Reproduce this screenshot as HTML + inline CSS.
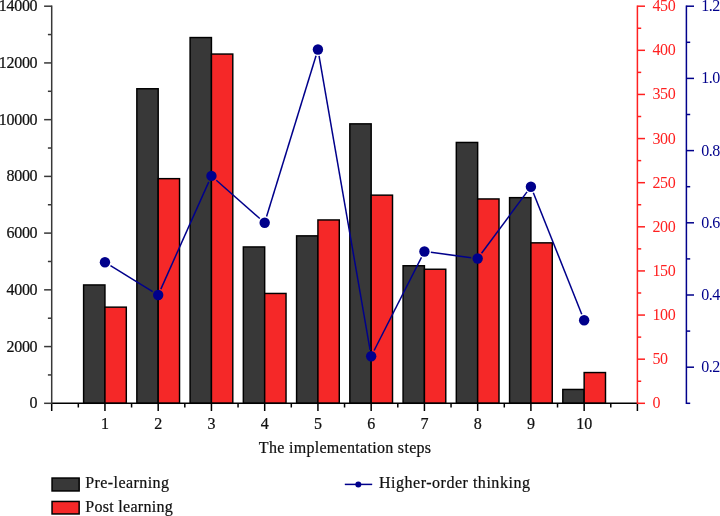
<!DOCTYPE html>
<html><head><meta charset="utf-8"><title>Chart</title>
<style>html,body{margin:0;padding:0;background:#fff;}body{width:720px;height:516px;overflow:hidden;font-family:"Liberation Serif",serif;}svg{display:block}</style>
</head><body>
<svg width="720" height="516" viewBox="0 0 720 516" font-family="'Liberation Serif', serif" font-size="16">
<rect width="720" height="516" fill="#fff"/>
<g stroke="#000" stroke-width="1.45">
<rect x="83.60" y="284.95" width="21.35" height="118.35" fill="#383838"/>
<rect x="104.95" y="307.15" width="21.35" height="96.15" fill="#f52828"/>
<rect x="136.84" y="88.75" width="21.35" height="314.55" fill="#383838"/>
<rect x="158.19" y="178.65" width="21.35" height="224.65" fill="#f52828"/>
<rect x="190.09" y="37.55" width="21.35" height="365.75" fill="#383838"/>
<rect x="211.44" y="54.05" width="21.35" height="349.25" fill="#f52828"/>
<rect x="243.33" y="246.95" width="21.35" height="156.35" fill="#383838"/>
<rect x="264.68" y="293.45" width="21.35" height="109.85" fill="#f52828"/>
<rect x="296.58" y="235.85" width="21.35" height="167.45" fill="#383838"/>
<rect x="317.93" y="219.95" width="21.35" height="183.35" fill="#f52828"/>
<rect x="349.82" y="123.85" width="21.35" height="279.45" fill="#383838"/>
<rect x="371.17" y="195.15" width="21.35" height="208.15" fill="#f52828"/>
<rect x="403.07" y="265.75" width="21.35" height="137.55" fill="#383838"/>
<rect x="424.42" y="269.25" width="21.35" height="134.05" fill="#f52828"/>
<rect x="456.31" y="142.45" width="21.35" height="260.85" fill="#383838"/>
<rect x="477.66" y="198.95" width="21.35" height="204.35" fill="#f52828"/>
<rect x="509.56" y="197.65" width="21.35" height="205.65" fill="#383838"/>
<rect x="530.91" y="242.85" width="21.35" height="160.45" fill="#f52828"/>
<rect x="562.80" y="389.45" width="21.35" height="13.85" fill="#383838"/>
<rect x="584.15" y="372.55" width="21.35" height="30.75" fill="#f52828"/>
</g>
<g stroke="#000" stroke-width="1.5" fill="none">
<path d="M50.95 403.3H638.15"/>
<path d="M51.70 403.3V411.0"/>
<path d="M78.32 403.3V407.5"/>
<path d="M104.95 403.3V411.0"/>
<path d="M131.57 403.3V407.5"/>
<path d="M158.19 403.3V411.0"/>
<path d="M184.81 403.3V407.5"/>
<path d="M211.44 403.3V411.0"/>
<path d="M238.06 403.3V407.5"/>
<path d="M264.68 403.3V411.0"/>
<path d="M291.30 403.3V407.5"/>
<path d="M317.93 403.3V411.0"/>
<path d="M344.55 403.3V407.5"/>
<path d="M371.17 403.3V411.0"/>
<path d="M397.80 403.3V407.5"/>
<path d="M424.42 403.3V411.0"/>
<path d="M451.04 403.3V407.5"/>
<path d="M477.66 403.3V411.0"/>
<path d="M504.29 403.3V407.5"/>
<path d="M530.91 403.3V411.0"/>
<path d="M557.53 403.3V407.5"/>
<path d="M584.15 403.3V411.0"/>
<path d="M610.78 403.3V407.5"/>
<path d="M637.40 403.3V411.0"/>
</g>
<g stroke="#383838" stroke-width="1.5" fill="none">
<path d="M51.7 5.45V404.05"/>
<path d="M51.7 403.30H44.1"/>
<path d="M51.7 374.94H47.900000000000006"/>
<path d="M51.7 346.57H44.1"/>
<path d="M51.7 318.21H47.900000000000006"/>
<path d="M51.7 289.84H44.1"/>
<path d="M51.7 261.48H47.900000000000006"/>
<path d="M51.7 233.11H44.1"/>
<path d="M51.7 204.75H47.900000000000006"/>
<path d="M51.7 176.39H44.1"/>
<path d="M51.7 148.02H47.900000000000006"/>
<path d="M51.7 119.66H44.1"/>
<path d="M51.7 91.29H47.900000000000006"/>
<path d="M51.7 62.93H44.1"/>
<path d="M51.7 34.56H47.900000000000006"/>
<path d="M51.7 6.20H44.1"/>
</g>
<g stroke="#ff2020" stroke-width="1.5" fill="none">
<path d="M637.4 5.45V404.05"/>
<path d="M637.4 403.30H645.0"/>
<path d="M637.4 381.24H641.1999999999999"/>
<path d="M637.4 359.18H645.0"/>
<path d="M637.4 337.12H641.1999999999999"/>
<path d="M637.4 315.06H645.0"/>
<path d="M637.4 292.99H641.1999999999999"/>
<path d="M637.4 270.93H645.0"/>
<path d="M637.4 248.87H641.1999999999999"/>
<path d="M637.4 226.81H645.0"/>
<path d="M637.4 204.75H641.1999999999999"/>
<path d="M637.4 182.69H645.0"/>
<path d="M637.4 160.63H641.1999999999999"/>
<path d="M637.4 138.57H645.0"/>
<path d="M637.4 116.51H641.1999999999999"/>
<path d="M637.4 94.44H645.0"/>
<path d="M637.4 72.38H641.1999999999999"/>
<path d="M637.4 50.32H645.0"/>
<path d="M637.4 28.26H641.1999999999999"/>
<path d="M637.4 6.20H645.0"/>
</g>
<g stroke="#00008b" stroke-width="1.5" fill="none">
<path d="M686.4 5.45V404.05"/>
<path d="M686.4 403.30H690.1999999999999"/>
<path d="M686.4 367.20H694.0"/>
<path d="M686.4 331.10H690.1999999999999"/>
<path d="M686.4 295.00H694.0"/>
<path d="M686.4 258.90H690.1999999999999"/>
<path d="M686.4 222.80H694.0"/>
<path d="M686.4 186.70H690.1999999999999"/>
<path d="M686.4 150.60H694.0"/>
<path d="M686.4 114.50H690.1999999999999"/>
<path d="M686.4 78.40H694.0"/>
<path d="M686.4 42.30H690.1999999999999"/>
<path d="M686.4 6.20H694.0"/>
</g>
<g stroke="#00008b" stroke-width="1.5" fill="none">
<path d="M110.48 265.61L152.66 291.59"/>
<path d="M160.84 289.07L208.78 181.83"/>
<path d="M216.31 180.20L259.80 218.50"/>
<path d="M266.59 216.59L316.02 55.71"/>
<path d="M319.04 55.90L370.06 349.90"/>
<path d="M374.12 350.51L421.47 257.29"/>
<path d="M430.86 252.35L471.22 257.65"/>
<path d="M481.54 253.28L527.04 191.92"/>
<path d="M533.32 192.74L581.75 314.16"/>
</g>
<g fill="#00008b">
<circle cx="104.95" cy="262.20" r="5.2"/>
<circle cx="158.19" cy="295.00" r="5.2"/>
<circle cx="211.44" cy="175.90" r="5.2"/>
<circle cx="264.68" cy="222.80" r="5.2"/>
<circle cx="317.93" cy="49.50" r="5.2"/>
<circle cx="371.17" cy="356.30" r="5.2"/>
<circle cx="424.42" cy="251.50" r="5.2"/>
<circle cx="477.66" cy="258.50" r="5.2"/>
<circle cx="530.91" cy="186.70" r="5.2"/>
<circle cx="584.15" cy="320.20" r="5.2"/>
</g>
<g fill="#111" stroke="#111" stroke-width="0.22" text-anchor="end" letter-spacing="-0.3">
<text x="37.3" y="408.30">0</text>
<text x="37.3" y="351.57">2000</text>
<text x="37.3" y="294.84">4000</text>
<text x="37.3" y="238.11">6000</text>
<text x="37.3" y="181.39">8000</text>
<text x="37.3" y="124.66">10000</text>
<text x="37.3" y="67.93">12000</text>
<text x="37.3" y="11.20">14000</text>
</g>
<g fill="#111" stroke="#111" stroke-width="0.22" text-anchor="middle">
<text x="104.95" y="429.2">1</text>
<text x="158.19" y="429.2">2</text>
<text x="211.44" y="429.2">3</text>
<text x="264.68" y="429.2">4</text>
<text x="317.93" y="429.2">5</text>
<text x="371.17" y="429.2">6</text>
<text x="424.42" y="429.2">7</text>
<text x="477.66" y="429.2">8</text>
<text x="530.91" y="429.2">9</text>
<text x="584.15" y="429.2">10</text>
<text x="258.8" y="452.7" text-anchor="start" textLength="172.3" lengthAdjust="spacing">The implementation steps</text>
</g>
<g fill="#ff2020" letter-spacing="-0.3">
<text x="652.4" y="408.30">0</text>
<text x="652.4" y="364.18">50</text>
<text x="652.4" y="320.06">100</text>
<text x="652.4" y="275.93">150</text>
<text x="652.4" y="231.81">200</text>
<text x="652.4" y="187.69">250</text>
<text x="652.4" y="143.57">300</text>
<text x="652.4" y="99.44">350</text>
<text x="652.4" y="55.32">400</text>
<text x="652.4" y="11.20">450</text>
</g>
<g fill="#00008b" letter-spacing="-0.45">
<text x="701.2" y="372.20">0.2</text>
<text x="701.2" y="300.00">0.4</text>
<text x="701.2" y="227.80">0.6</text>
<text x="701.2" y="155.60">0.8</text>
<text x="701.2" y="83.40">1.0</text>
<text x="701.2" y="11.20">1.2</text>
</g>
<rect x="52.05" y="478.05" width="27.1" height="12.9" fill="#383838" stroke="#000" stroke-width="1.5"/>
<rect x="52.05" y="501.45" width="27.1" height="12.5" fill="#f52828" stroke="#000" stroke-width="1.5"/>
<g fill="#111" stroke="#111" stroke-width="0.22">
<text x="85.3" y="488" textLength="83.6" lengthAdjust="spacing">Pre-learning</text>
<text x="85.3" y="511.7" textLength="87.4" lengthAdjust="spacing">Post learning</text>
<text x="378.9" y="487.8" textLength="151" lengthAdjust="spacing">Higher-order thinking</text>
</g>
<path d="M344.8 484.4H372.2" stroke="#00008b" stroke-width="1.5"/>
<circle cx="358.3" cy="484.4" r="3" fill="#00008b"/>
</svg>
</body></html>
